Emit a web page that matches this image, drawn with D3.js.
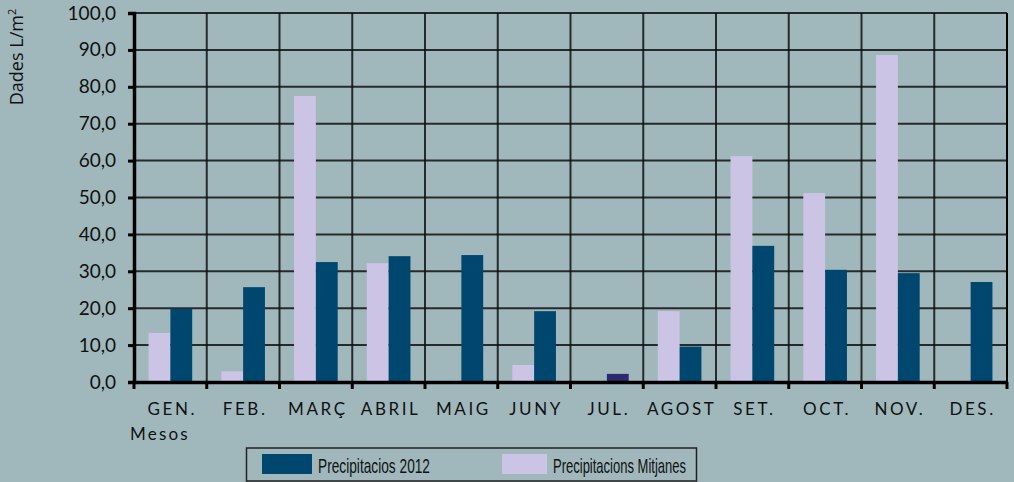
<!DOCTYPE html>
<html><head><meta charset="utf-8">
<script src="https://cdn.jsdelivr.net/npm/d3@7"></script>
<style>
html,body{margin:0;padding:0;background:#a0b8bc;}
svg{display:block;}
</style></head>
<body>
<script>
const months = ["GEN.","FEB.","MARÇ","ABRIL","MAIG","JUNY","JUL.","AGOST","SET.","OCT.","NOV.","DES."];
const precip2012 = [19.8,25.7,32.5,34.1,34.4,19.2,2.2,9.6,36.9,30.4,29.5,27.1];
const precipMitjanes = [13.3,2.9,77.5,32.2,0,4.6,0,19.2,61.2,51.2,88.6,0];
const yTicks = [0,10,20,30,40,50,60,70,80,90,100];
const seriesNames = ["Precipitacios 2012","Precipitacions Mitjanes"];

const W=1014,H=482;
const m={left:134,right:1007,top:13,bottom:382};
const svg=d3.select("body").append("svg").attr("width",W).attr("height",H);
svg.append("rect").attr("width",W).attr("height",H).attr("fill","#a0b8bc");

const x=d3.scaleBand().domain(months).range([m.left,m.right]).paddingInner(0).paddingOuter(0);
const y=d3.scaleLinear().domain([0,100]).range([m.bottom,m.top]);
const bw=x.bandwidth()*0.3;

// grid
const g=svg.append("g");
g.selectAll("line.h").data(yTicks.slice(1)).join("line")
  .attr("x1",m.left).attr("x2",m.right).attr("y1",d=>y(d)).attr("y2",d=>y(d))
  .attr("stroke","#111").attr("stroke-width",2).attr("stroke-opacity",0.85);
g.selectAll("line.v").data(months.slice(1)).join("line")
  .attr("x1",d=>x(d)).attr("x2",d=>x(d)).attr("y1",m.top).attr("y2",m.bottom)
  .attr("stroke","#111").attr("stroke-width",2).attr("stroke-opacity",0.85);
svg.append("line").attr("x1",m.right).attr("x2",m.right).attr("y1",m.top).attr("y2",m.bottom)
  .attr("stroke","#000").attr("stroke-width",2);

// bars
const colDark="#00476f", colLav="#ccc4e4", colJul="#2c2a6e";
svg.append("g").selectAll("rect").data(months).join("rect")
  .attr("x",d=>x(d)+x.bandwidth()/2-bw).attr("width",bw)
  .attr("y",(d,i)=>y(precipMitjanes[i])).attr("height",(d,i)=>y(0)-y(precipMitjanes[i]))
  .attr("fill",colLav);
svg.append("g").selectAll("rect").data(months).join("rect")
  .attr("x",d=>x(d)+x.bandwidth()/2).attr("width",bw)
  .attr("y",(d,i)=>y(precip2012[i])).attr("height",(d,i)=>y(0)-y(precip2012[i]))
  .attr("fill",(d,i)=>d==="JUL."?colJul:colDark);

// axes
const fmt=d=>d.toFixed(1).replace(".",",");
const ya=svg.append("g").attr("transform",`translate(${m.left},0)`)
  .call(d3.axisLeft(y).tickValues(yTicks).tickFormat(fmt).tickSize(6).tickPadding(12));
ya.select(".domain").attr("stroke","#000").attr("stroke-width",3.5);
ya.selectAll(".tick line").attr("stroke","#000").attr("stroke-width",3);
ya.selectAll(".tick text").attr("font-family","Lato, 'DejaVu Sans', sans-serif").attr("font-size",19).attr("fill","#111");

const xa=svg.append("g").attr("transform",`translate(0,${m.bottom})`)
  .call(d3.axisBottom(x).tickValues([]).tickSizeOuter(0));
xa.select(".domain").attr("stroke","#000").attr("stroke-width",3.5);
svg.append("g").selectAll("line").data(months.concat(["__end"])).join("line")
  .attr("x1",(d,i)=>i<months.length?x(d):m.right).attr("x2",(d,i)=>i<months.length?x(d):m.right)
  .attr("y1",m.bottom).attr("y2",m.bottom+7).attr("stroke","#000").attr("stroke-width",3);
svg.append("g").selectAll("text").data(months).join("text")
  .attr("x",d=>x(d)+x.bandwidth()/2+2).attr("y",415)
  .attr("text-anchor","middle").attr("font-family","Lato, 'DejaVu Sans', sans-serif")
  .attr("font-size",17).attr("letter-spacing","2.6px").attr("fill","#111").text(d=>d);

svg.append("text").attr("x",130).attr("y",440).attr("font-family","Lato, 'DejaVu Sans', sans-serif")
  .attr("font-size",17).attr("letter-spacing","2.2px").attr("fill","#111").text("Mesos");

svg.append("text").attr("transform","translate(23,57) rotate(-90)").attr("text-anchor","middle")
  .attr("font-family","'Open Sans', 'DejaVu Sans', sans-serif").attr("font-size",18).attr("fill","#111")
  .html('Dades L/m<tspan baseline-shift="super" font-size="11">2</tspan>');

// legend
const lg=svg.append("g");
lg.append("rect").attr("x",246.5).attr("y",448).attr("width",450).attr("height",33)
  .attr("fill","none").attr("stroke","#222").attr("stroke-width",1.5);
const legItems=[{name:seriesNames[0],c:colDark,sx:262,sw:50,tx:318,tl:112},{name:seriesNames[1],c:colLav,sx:502,sw:45,tx:553,tl:133}];
legItems.forEach(it=>{
  lg.append("rect").attr("x",it.sx).attr("y",454).attr("width",it.sw).attr("height",20).attr("fill",it.c);
  lg.append("text").attr("x",it.tx).attr("y",473).attr("font-family","'Liberation Sans', Arial, sans-serif")
    .attr("font-size",21).attr("textLength",it.tl).attr("lengthAdjust","spacingAndGlyphs")
    .attr("fill","#111").text(it.name);
});
</script>
</body></html>
